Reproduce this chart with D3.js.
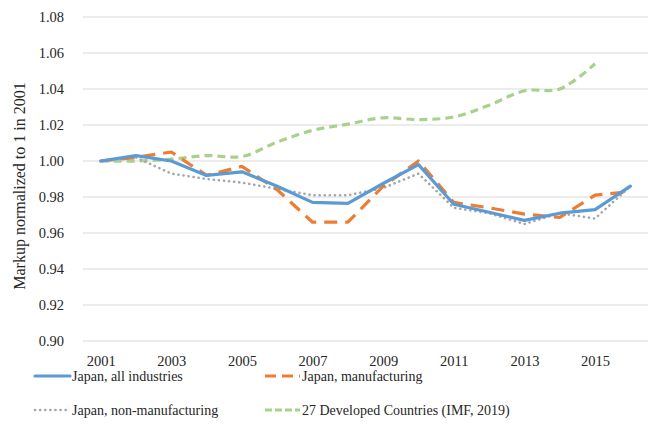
<!DOCTYPE html>
<html>
<head>
<meta charset="utf-8">
<script src="https://cdn.jsdelivr.net/npm/d3@7"></script>
<style>
  body { margin: 0; background: #fff; }
  svg { font-family: "Liberation Serif", "DejaVu Serif", serif; }
</style>
</head>
<body>
<svg id="chart" width="656" height="438"></svg>
<script>
// años y series
const years = d3.range(2001, 2017);
const yearLabels = ["2001", "2003", "2005", "2007", "2009", "2011", "2013", "2015"];
const allIndustries = [1.000, 1.003, 1.000, 0.992, 0.994, 0.986, 0.977, 0.9765, 0.9875, 0.998, 0.976, 0.9715, 0.967, 0.971, 0.973, 0.986];
const manufacturing = [1.000, 1.002, 1.005, 0.992, 0.997, 0.984, 0.966, 0.966, 0.986, 1.000, 0.977, 0.974, 0.9705, 0.9687, 0.981, 0.983];
const nonManufacturing = [1.000, 1.002, 0.993, 0.990, 0.988, 0.9845, 0.981, 0.981, 0.985, 0.993, 0.974, 0.971, 0.965, 0.971, 0.968, 0.986];
const developed27 = [1.000, 1.000, 1.001, 1.003, 1.0025, 1.0105, 1.017, 1.0205, 1.024, 1.023, 1.0245, 1.031, 1.039, 1.040, 1.054];
const yTicks = [0.90, 0.92, 0.94, 0.96, 0.98, 1.00, 1.02, 1.04, 1.06, 1.08];

const series = [
  { name: "Japan, all industries", values: allIndustries, color: "#5b9bd5", width: 3.2, dash: null, cap: "round", curve: d3.curveLinear },
  { name: "Japan, manufacturing", values: manufacturing, color: "#ed7d31", width: 3.2, dash: "13,8", cap: "butt", curve: d3.curveLinear },
  { name: "Japan, non-manufacturing", values: nonManufacturing, color: "#a5a5a5", width: 2.6, dash: "0.1,5", cap: "round", curve: d3.curveLinear },
  { name: "27 Developed Countries (IMF, 2019)", values: developed27, color: "#a9d18e", width: 3.2, dash: "8,5", cap: "butt", curve: d3.curveCatmullRom }
];

const svg = d3.select("#chart");
const plotLeft = 83, plotRight = 648, plotTop = 17, plotBottom = 341;

const x = d3.scalePoint()
    .domain(years)
    .range([plotLeft, plotRight])
    .padding(0.5);

const y = d3.scaleLinear()
    .domain([0.90, 1.08])
    .range([plotBottom, plotTop]);

// líneas de grilla
svg.append("g")
    .selectAll("line")
    .data(yTicks)
    .join("line")
    .attr("x1", plotLeft).attr("x2", plotRight)
    .attr("y1", d => y(d)).attr("y2", d => y(d))
    .attr("stroke", "#d9d9d9")
    .attr("stroke-width", 1);

// eje y
const yAxis = svg.append("g")
    .attr("transform", `translate(${plotLeft - 16},0)`)
    .call(d3.axisLeft(y).tickValues(yTicks).tickFormat(d3.format(".2f")).tickSize(0));
yAxis.select(".domain").remove();
yAxis.selectAll("text")
    .attr("font-family", "Liberation Serif, serif")
    .attr("font-size", 14.5)
    .attr("fill", "#262626");

// eje x
const xAxis = svg.append("g")
    .attr("transform", `translate(0,${plotBottom + 12})`)
    .call(d3.axisBottom(x).tickValues(years.filter(d => yearLabels.includes(String(d)))).tickSize(0));
xAxis.select(".domain").remove();
xAxis.selectAll("text")
    .attr("font-family", "Liberation Serif, serif")
    .attr("font-size", 14.5)
    .attr("fill", "#262626");

// título eje y
svg.append("text")
    .attr("transform", `translate(25,${(plotTop + plotBottom) / 2 + 7}) rotate(-90)`)
    .attr("text-anchor", "middle")
    .attr("font-size", 16)
    .attr("fill", "#262626")
    .text("Markup normalized to 1 in 2001");

// series (orden de dibujo: verde, gris, naranja, azul)
const drawOrder = [3, 2, 1, 0];
drawOrder.forEach(i => {
  const s = series[i];
  const line = d3.line()
      .x((d, j) => x(years[j]))
      .y(d => y(d))
      .curve(s.curve);
  svg.append("path")
      .datum(s.values)
      .attr("d", line)
      .attr("fill", "none")
      .attr("stroke", s.color)
      .attr("stroke-width", s.width)
      .attr("stroke-linecap", s.cap)
      .attr("stroke-linejoin", "round")
      .attr("stroke-dasharray", s.dash);
});

// leyenda
const legendPos = [[35, 376], [265, 376], [35, 410], [265, 410]];
const legend = svg.append("g")
    .selectAll("g")
    .data(series)
    .join("g")
    .attr("transform", (d, i) => `translate(${legendPos[i][0]},${legendPos[i][1]})`);

legend.append("line")
    .attr("x1", 0).attr("x2", 35)
    .attr("y1", 0).attr("y2", 0)
    .attr("stroke", d => d.color)
    .attr("stroke-width", d => d.width)
    .attr("stroke-linecap", d => d.cap)
    .attr("stroke-dasharray", (d, i) => i === 1 ? "11,6" : i === 3 ? "7,3" : d.dash);

legend.append("text")
    .attr("x", 37)
    .attr("y", 5)
    .attr("font-size", 14)
    .attr("fill", "#262626")
    .text(d => d.name);
</script>
</body>
</html>
